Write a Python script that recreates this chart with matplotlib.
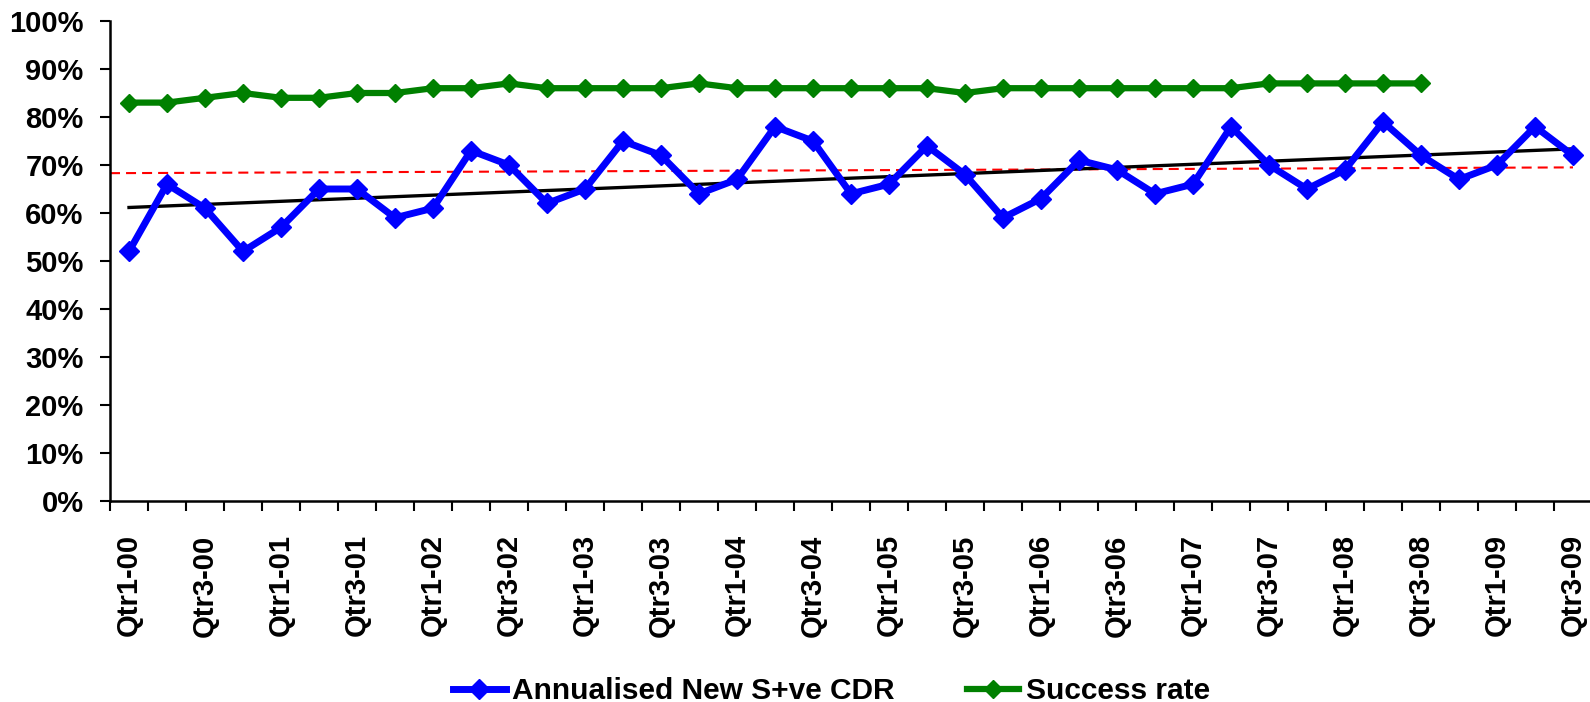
import numpy as np
import matplotlib
matplotlib.use('Agg')
import matplotlib.pyplot as plt
from matplotlib.ticker import FixedLocator, PercentFormatter

plt.rcParams['font.family'] = ['Liberation Sans', 'DejaVu Sans']
plt.rcParams['font.weight'] = 'bold'

# quarters Qtr1-00 .. Qtr3-09
quarters = ['Qtr%d-%02d' % (q, y) for y in range(0, 10) for q in range(1, 5)][:39]

cdr = [52, 66, 61, 52, 57, 65, 65, 59, 61, 73, 70, 62, 65, 75, 72, 64,
       67, 78, 75, 64, 66, 74, 68, 59, 63, 71, 69, 64, 66, 78, 70, 65,
       69, 79, 72, 67, 70, 78, 72]
success = [83, 83, 84, 85, 84, 84, 85, 85, 86, 86, 87, 86, 86, 86, 86, 87,
           86, 86, 86, 86, 86, 86, 85, 86, 86, 86, 86, 86, 86, 86, 87, 87,
           87, 87, 87]
# red dashed reference line, value at left axis and at last quarter
ref_line = [68.3, 69.5]

x = np.arange(len(cdr))

fig = plt.figure(figsize=(15.9, 7.02), dpi=100)
# plot area runs a little past the right edge of the picture (as in the original)
ax = fig.add_axes([110/1590, 1 - 501/702, (1592-110)/1590, (501-21)/702])

#trend of the blue series
slope, icpt = np.polyfit(x, cdr, 1)
ax.plot([-0.5, len(cdr) - 1], ref_line, color='red', ls=(0, (4.8, 2.9)), lw=1.5, zorder=2)
ax.plot(x, slope*x + icpt, color='black', lw=2.4, zorder=3)

ax.plot(x, cdr, color='#0000ff', lw=5, marker='D', ms=10, zorder=4,
        label='Annualised New S+ve CDR')
ax.plot(np.arange(len(success)), success, color='#008000', lw=4.5, marker='D', ms=9,
        zorder=4, label='Success rate')

ax.set_xlim(-0.5, len(cdr) - 0.5)
ax.set_ylim(0, 100)
ax.yaxis.set_major_locator(FixedLocator(np.arange(0, 101, 10)))
ax.yaxis.set_major_formatter(PercentFormatter(decimals=0))

ax.set_xticks(x[::2])
ax.set_xticklabels(quarters[::2], rotation=90)
ax.set_xticks(np.arange(-0.5, len(cdr)), minor=True)
ax.tick_params(axis='x', which='major', length=0, pad=24, labelsize=21)
ax.tick_params(axis='x', which='minor', length=7, width=1.5, direction='out')
ax.tick_params(axis='y', length=7, width=1.5, labelsize=21, pad=12)

for s in ['top', 'right']:
    ax.spines[s].set_visible(False)
for s in ['left', 'bottom']:
    ax.spines[s].set_linewidth(1.8)

fig.legend(loc='center', bbox_to_anchor=(0.523, 0.0157), ncol=2, frameon=False,
           fontsize=21.5, handlelength=1.77, handletextpad=0.23, columnspacing=2.4)

fig.savefig('out.png', dpi=100)
